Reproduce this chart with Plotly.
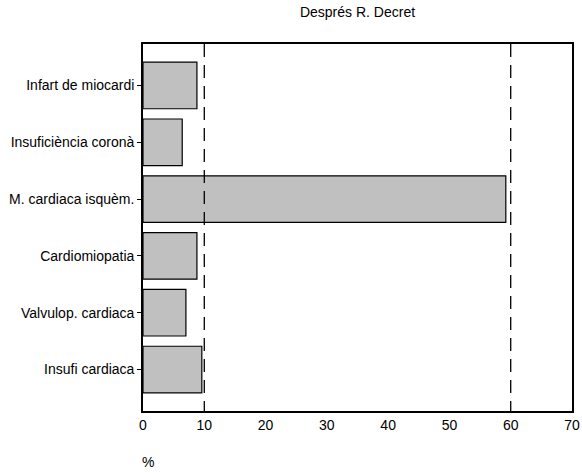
import plotly.graph_objects as go

categories = ["Infart de miocardi", "Insuficiència coronà", "M. cardiaca isquèm.",
              "Cardiomiopatia", "Valvulop. cardiaca", "Insufi cardiaca"]
values = [8.8, 6.4, 59.2, 8.8, 7.0, 9.6]
ref_lines = [10, 60]
x_ticks = [0, 10, 20, 30, 40, 50, 60, 70]

W, H = 582, 473
L, R, T, B = 143, 10, 44, 62

fig = go.Figure()
fig.add_trace(go.Bar(
    y=categories, x=values, orientation="h",
    marker=dict(color="#c0c0c0", line=dict(color="#000000", width=1.2)),
    width=0.82,
))
for v in ref_lines:
    fig.add_shape(type="line", xref="x", yref="paper", x0=v, x1=v, y0=1, y1=0,
                  line=dict(color="black", width=1.3, dash="13px,8px"), layer="above")

fig.update_layout(
    width=W, height=H,
    margin=dict(l=L, r=R, t=T, b=B, autoexpand=False),
    plot_bgcolor="white", paper_bgcolor="white",
    font=dict(family="Liberation Sans, Arial, sans-serif", size=14, color="black"),
    showlegend=False,
    title=dict(text="Després R. Decret", x=(L + (W - R)) / 2 / W, xanchor="center",
               y=1 - 12 / H, yanchor="middle", font=dict(size=14)),
    xaxis=dict(range=[0, 70], tickvals=x_ticks, showgrid=False, zeroline=False,
               automargin=False,
               showline=True, linecolor="black", linewidth=1.6, mirror=True,
               ticks=""),
    yaxis=dict(categoryorder="array", categoryarray=categories, automargin=False,
               range=[5.73, -0.73], showgrid=False, zeroline=False,
               showline=True, linecolor="black", linewidth=1.6, mirror=True,
               ticks="outside", ticklen=4, tickcolor="black", tickwidth=1.2),
    annotations=[dict(text="%", xref="paper", yref="paper",
                      x=(148 - L) / (W - L - R), y=-(462 - (H - B)) / (H - T - B),
                      xanchor="center", yanchor="middle", showarrow=False,
                      font=dict(size=14))],
)

fig.write_html("out.html", config={"displayModeBar": False},
               post_script="document.body.style.margin='0';document.body.style.overflow='hidden';")
